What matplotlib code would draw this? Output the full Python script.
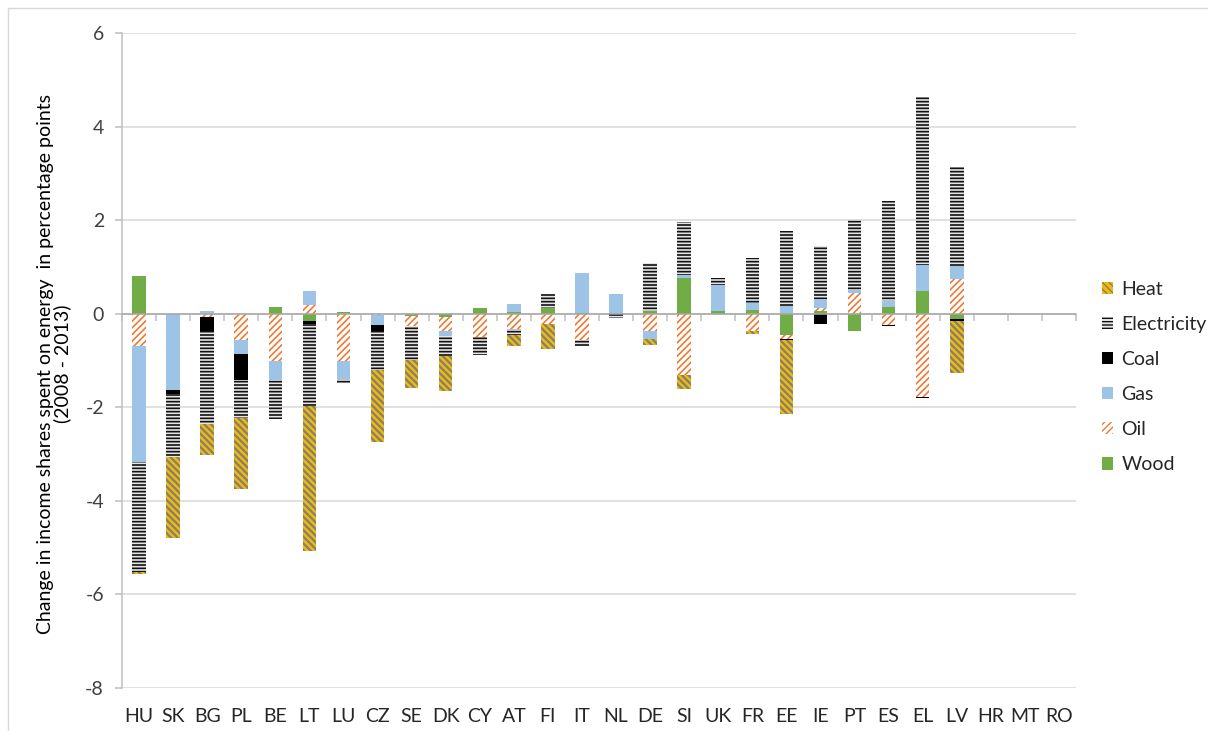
import numpy as np
import matplotlib
matplotlib.use("Agg")
import matplotlib.pyplot as plt
from matplotlib.patches import Patch
from matplotlib.lines import Line2D
from matplotlib.ticker import FuncFormatter
import matplotlib.transforms as mtransforms

# Change in income shares spent on energy (percentage points, 2008-2013)
countries = ["HU", "SK", "BG", "PL", "BE", "LT", "LU", "CZ", "SE", "DK", "CY", "AT",
             "FI", "IT", "NL", "DE", "SI", "UK", "FR", "EE", "IE", "PT", "ES", "EL",
             "LV", "HR", "MT", "RO"]

wood = [0.81, 0.0, 0.0, 0.0, 0.15, -0.16, 0.04, 0.0, -0.05, -0.07, 0.12, 0.03,
        0.12, 0.02, 0.0, 0.05, 0.76, 0.05, 0.07, -0.46, 0.05, -0.36, 0.14, 0.48,
        -0.11, 0.0, 0.0, 0.0]
oil = [-0.70, 0.0, -0.06, -0.56, -1.00, 0.18, -1.00, -0.03, -0.21, -0.29, -0.50, -0.32,
       -0.23, -0.57, 0.0, -0.36, -1.32, 0.0, -0.36, -0.08, 0.07, 0.44, -0.24, -1.77,
       0.74, 0.0, 0.0, 0.0]
gas = [-2.48, -1.64, 0.05, -0.30, -0.41, 0.30, -0.40, -0.21, 0.0, -0.11, 0.0, 0.18,
       0.0, 0.86, 0.43, -0.17, 0.06, 0.57, 0.16, 0.16, 0.19, 0.06, 0.13, 0.57,
       0.27, 0.0, 0.0, 0.0]
coal = [0.0, -0.07, -0.30, -0.55, 0.0, -0.05, 0.0, -0.14, 0.0, 0.0, 0.0, 0.0,
        0.0, 0.0, -0.02, 0.0, 0.0, 0.0, 0.0, -0.03, -0.21, 0.0, -0.02, -0.03,
        -0.05, 0.0, 0.0, 0.0]
electricity = [-2.33, -1.35, -1.99, -0.82, -0.84, -1.77, -0.08, -0.83, -0.72, -0.43, -0.38, -0.13,
               0.31, -0.11, -0.08, 1.03, 1.13, 0.14, 0.96, 1.60, 1.13, 1.51, 2.13, 3.59,
               2.12, 0.0, 0.0, 0.0]
heat = [-0.05, -1.73, -0.66, -1.52, 0.0, -3.10, 0.0, -1.53, -0.61, -0.76, 0.0, -0.25,
        -0.52, 0.0, 0.0, -0.13, -0.28, 0.0, -0.07, -1.57, 0.0, 0.0, 0.0, 0.0,
        -1.11, 0.0, 0.0, 0.0]

series = [("Wood", wood), ("Oil", oil), ("Gas", gas), ("Coal", coal),
          ("Electricity", electricity), ("Heat", heat)]

styles = {
    "Wood": dict(facecolor="#70AD47", edgecolor="#70AD47", hatch=None, hlw=1.0),
    "Oil": dict(facecolor="white", edgecolor="#F07A35", hatch="/////", hlw=1.2),
    "Gas": dict(facecolor="#9DC3E6", edgecolor="#9DC3E6", hatch=None, hlw=1.0),
    "Coal": dict(facecolor="#000000", edgecolor="#000000", hatch=None, hlw=1.0),
    "Electricity": dict(facecolor="#E6E6E6", edgecolor="#111111", hatch="-----", hlw=1.2),
    "Heat": dict(facecolor="#F5BA00", edgecolor="#7F7F7F", hatch="\\\\\\\\\\", hlw=1.6),
}

plt.rcParams["font.family"] = ["Lato", "DejaVu Sans"]

W, H = 1208, 731
fig = plt.figure(figsize=(W / 100, H / 100), dpi=100)
ax = fig.add_axes([122 / W, (H - 688) / H, (1076 - 122) / W, (688 - 33) / H])

x = np.arange(len(countries))
pos_base = np.zeros(len(countries))
neg_base = np.zeros(len(countries))

for name, vals in series:
    v = np.asarray(vals, dtype=float)
    st = styles[name]
    base = np.where(v >= 0, pos_base, neg_base)
    plt.rcParams["hatch.linewidth"] = st["hlw"]
    bars = ax.bar(x, v, width=0.4, bottom=base, facecolor=st["facecolor"],
                  edgecolor=st["edgecolor"], hatch=st["hatch"], linewidth=0,
                  zorder=3)
    for b in bars:
        if hasattr(b, "set_hatch_linewidth"):
            b.set_hatch_linewidth(st["hlw"])
    pos_base += np.clip(v, 0, None)
    neg_base += np.clip(v, None, 0)

ax.set_xlim(-0.5, len(countries) - 0.5)
ax.set_ylim(-8, 6)
ax.set_yticks(np.arange(-8, 7, 2))
ax.yaxis.set_major_formatter(FuncFormatter(lambda v, p: f"{v:.0f}".replace("\u2212", "-")))

grid_c = "#D9D9D9"
axis_c = "#BFBFBF"
ax.yaxis.grid(True, color=grid_c, linewidth=1.1, zorder=0)
ax.set_axisbelow(True)
for s in ("top", "right"):
    ax.spines[s].set_visible(False)
ax.spines["left"].set_color(axis_c)
ax.spines["left"].set_linewidth(1.1)
ax.spines["bottom"].set_position(("data", 0))
ax.spines["bottom"].set_color("#A6A6A6")
ax.spines["bottom"].set_linewidth(1.1)
ax.spines["bottom"].set_zorder(4)

# category boundary ticks on the zero line
ax.set_xticks(np.arange(-0.5, len(countries), 1.0))
ax.set_xticklabels([])
ax.tick_params(axis="x", direction="out", length=5, width=1.1, color=axis_c)
ax.tick_params(axis="y", direction="out", length=5, width=1.1, color=axis_c,
               labelsize=14, labelcolor="#404040", pad=8)

# country names below the plot area
trans = mtransforms.blended_transform_factory(ax.transData, ax.transAxes)
for i, c in enumerate(countries):
    ax.annotate(c, xy=(i, 0), xycoords=trans, xytext=(0, -28),
                textcoords="offset pixels", ha="center", va="center",
                fontsize=14, color="#262626")

ax.set_ylabel("Change in income shares spent on energy  in percentage points\n(2008 - 2013)",
              fontsize=14, color="#000000", linespacing=1.0)
ax.yaxis.set_label_coords(-0.053, 0.495)

# legend, topmost series first
handles = []
labels = []
for name, _ in reversed(series):
    st = styles[name]
    plt.rcParams["hatch.linewidth"] = st["hlw"]
    handles.append(Patch(facecolor=st["facecolor"], edgecolor=st["edgecolor"],
                         hatch=st["hatch"], linewidth=0))
    labels.append(name)
leg = fig.legend(handles, labels, loc="upper left",
                 bbox_to_anchor=(1094 / W, 1 - 273 / H), frameon=False,
                 fontsize=14, handlelength=0.6, handleheight=0.6,
                 handletextpad=0.4, labelspacing=0.93, borderaxespad=0)
for t in leg.get_texts():
    t.set_color("#262626")

# chart frame
fig.add_artist(Line2D([8 / W, 8 / W], [0, 1 - 8 / H], color=grid_c, linewidth=1.0))
fig.add_artist(Line2D([8 / W, 1], [1 - 8 / H, 1 - 8 / H], color=grid_c, linewidth=1.0))

fig.savefig("out.png", dpi=100)
